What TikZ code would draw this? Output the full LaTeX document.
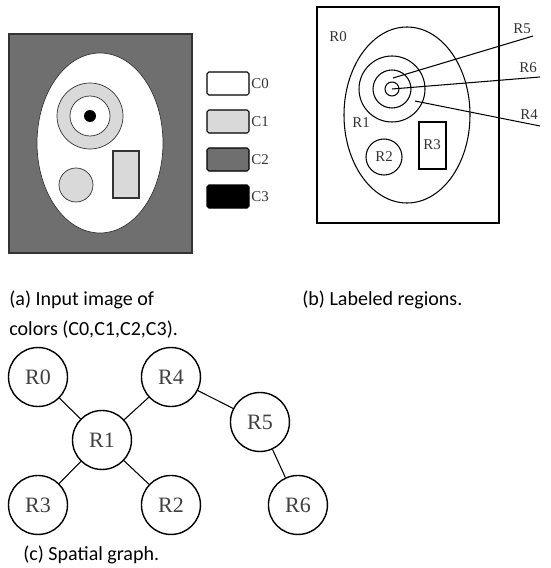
\documentclass[tikz,border=0pt]{standalone}
\usepackage{fontspec}
\setmainfont{Liberation Serif}
\newfontfamily\capfont{Carlito}
\usepackage{xcolor}
\usetikzlibrary{positioning}

\definecolor{darkgray}{HTML}{6F6F6F}
\definecolor{lightgray}{HTML}{D9D9D9}

\begin{document}
\begin{tikzpicture}[
        x=0.02cm, y=-0.02cm,
        node distance=1.26cm and 1.28cm,
        region/.style={draw, circle, line width=0.8pt, minimum size=1.18cm, inner sep=0pt, text=black!75, font=\fontsize{12.5}{12.5}\selectfont},
        swatch/.style={draw, line width=0.6pt, rounded corners=1pt},
        lbl/.style={font=\fontsize{8.5}{9}\selectfont, text=black!80, inner sep=0pt},
        caption/.style={font=\capfont\fontsize{11.4}{12}\selectfont, anchor=west, inner sep=0pt},
        edge/.style={line width=0.6pt}
    ]
    \useasboundingbox (0,0) rectangle (551,568);

    % (a) Input image
    \filldraw[fill=darkgray, draw=black!80, line width=0.6pt] (9,34) rectangle (192,253);
    \filldraw[fill=white, draw=black!80, line width=0.4pt] (100,143) ellipse (63 and 90);
    \filldraw[fill=lightgray, draw=black!80, line width=0.4pt] (90,116) circle (33);
    \filldraw[fill=white, draw=black!80, line width=0.4pt] (90,116) circle (20);
    \fill[black] (90,116) circle (6);
    \filldraw[fill=lightgray, draw=black!80, line width=0.4pt] (76,185) circle (17);
    \filldraw[fill=lightgray, draw=black!80, line width=0.6pt] (113,151) rectangle (139,198);

    % Legend
    \filldraw[swatch, fill=white] (207,72) rectangle (249,95);
    \filldraw[swatch, fill=lightgray] (207,110) rectangle (249,133);
    \filldraw[swatch, fill=darkgray] (207,148) rectangle (249,171);
    \filldraw[swatch, fill=black] (207,185) rectangle (249,208);
    \node[lbl, anchor=west] (c0) at (251,84) {C0};
    \node[lbl, anchor=west] (c1) at (251,122) {C1};
    \node[lbl, anchor=west] (c2) at (251,160) {C2};
    \node[lbl, anchor=west] (c3) at (251,197) {C3};

    % (b) Labeled regions
    \draw[line width=0.6pt] (317,7) rectangle (499,223);
    \draw[line width=0.6pt] (407,115) ellipse (63 and 88);
    \draw[line width=0.6pt] (392,89) circle (33);
    \draw[line width=0.6pt] (392,89) circle (19);
    \draw[line width=0.6pt] (392,89) circle (7);
    \draw[line width=0.6pt] (384,157) circle (18);
    \draw[line width=0.6pt] (419,122) rectangle (446,169);
    \node[lbl] (r0b) at (338,37) {R0};
    \node[lbl] (r1b) at (361,123) {R1};
    \node[lbl] (r2b) at (384,157) {R2};
    \node[lbl] (r3b) at (432,145) {R3};
    \node[lbl] (r5b) at (522,29) {R5};
    \node[lbl] (r6b) at (528,68) {R6};
    \node[lbl] (r4b) at (529,115) {R4};
    \coordinate (p5) at (393,78);
    \coordinate (p6) at (392,89);
    \coordinate (p4) at (415,101);
    \coordinate (e5) at (533,36);
    \coordinate (e6) at (540,77);
    \coordinate (e4) at (540,126);
    \draw[edge] (p5) -- (e5);
    \draw[edge] (p6) -- (e6);
    \draw[edge] (p4) -- (e4);

    % Captions
    \node[caption] (capa) at (9,300) {(a) Input image of};
    \node[caption] (capa2) at (9,330) {colors (C0,C1,C2,C3).};
    \node[caption] (capb) at (302,300) {(b) Labeled regions.};
    \node[caption] (capc) at (23,555) {(c) Spatial graph.};

    % (c) Spatial graph
    \node[region] (r0) at (38,377) {R0};
    \node[region, on grid] (r1) [below right=1.26cm and 1.28cm of r0] {R1};
    \node[region, on grid] (r4) [above right=1.26cm and 1.38cm of r1] {R4};
    \node[region, on grid] (r3) [below left=1.3cm and 1.28cm of r1] {R3};
    \node[region, on grid] (r2) [below right=1.3cm and 1.38cm of r1] {R2};
    \node[region, on grid] (r5) [below right=0.9cm and 1.78cm of r4] {R5};
    \node[region, on grid] (r6) [below right=1.66cm and 0.76cm of r5] {R6};

    \draw[edge] (r0) -- (r1);
    \draw[edge] (r1) -- (r4);
    \draw[edge] (r1) -- (r3);
    \draw[edge] (r1) -- (r2);
    \draw[edge] (r4) -- (r5);
    \draw[edge] (r5) -- (r6);

\end{tikzpicture}
\end{document}
